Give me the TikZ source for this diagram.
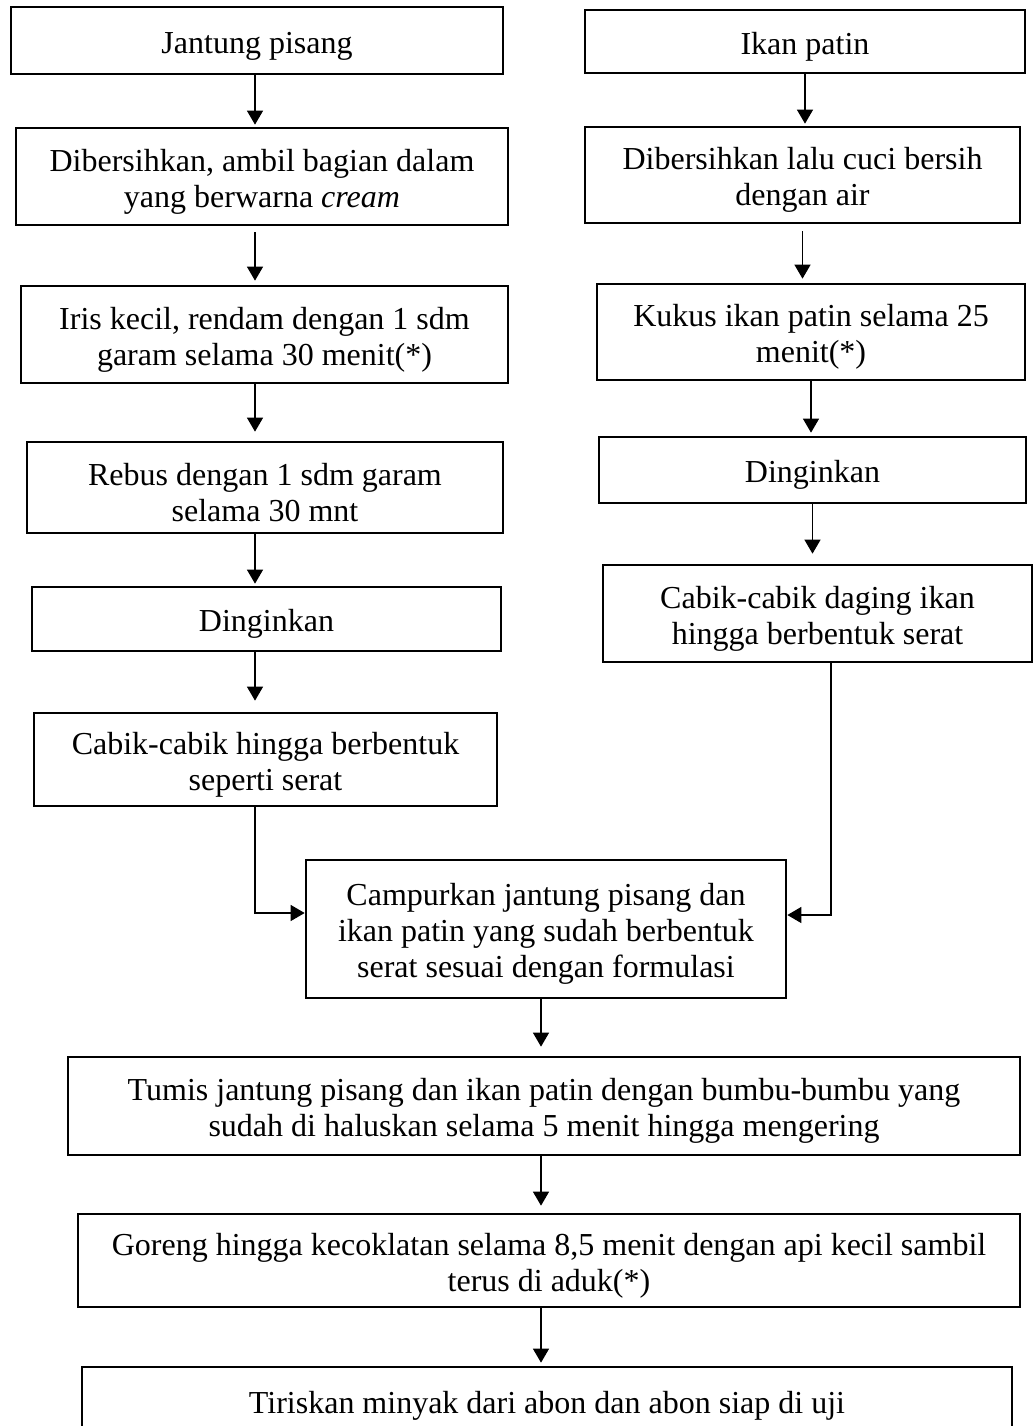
\documentclass[tikz,border=0pt]{standalone}
\usepackage{fontspec}
\setmainfont{Liberation Serif}
\usetikzlibrary{arrows.meta}
\newcommand{\atas}{\rule{0pt}{32pt}}
\tikzset{
    %Default arrow tip
    >={Triangle[width=16pt,length=14pt]},
    %Style for the process boxes
    kotak/.style={
           rectangle,
           draw=black, line width=2.7pt,
           inner sep=0pt,
           align=center},
    % Style for the connectors
    panah/.style={
           ->,
           line width=1.3pt,
           shorten >=2pt,}
}

\begin{document}
\begin{tikzpicture}[x=1pt,y=-1pt,font=\fontsize{32}{36}\selectfont]
\useasboundingbox[fill=white] (0,0) rectangle (1033,1426);
% left column
\node [kotak,minimum width=492pt,minimum height=67pt] (jantung) at (257,40.5) {\atas Jantung pisang};
\node [kotak,minimum width=492pt,minimum height=97pt] (bersihA) at (262,176.5) {\atas Dibersihkan, ambil bagian dalam\\yang berwarna \textit{cream}};
\node [kotak,minimum width=487pt,minimum height=97pt] (iris) at (264.5,334.5) {\atas Iris kecil, rendam dengan 1 sdm\\garam selama 30 menit(*)};
\node [kotak,minimum width=476pt,minimum height=91pt] (rebus) at (265,487.5) {\atas Rebus dengan 1 sdm garam\\selama 30 mnt};
\node [kotak,minimum width=469pt,minimum height=64pt] (dinginA) at (266.5,619) {\atas Dinginkan};
\node [kotak,minimum width=463pt,minimum height=93pt] (cabikA) at (265.5,759.5) {\atas Cabik-cabik hingga berbentuk\\seperti serat};
% right column
\node [kotak,minimum width=440pt,minimum height=63pt] (ikan) at (805,41.5) {\atas Ikan patin};
\node [kotak,minimum width=435pt,minimum height=96pt] (bersihB) at (802.5,175) {\atas Dibersihkan lalu cuci bersih\\dengan air};
\node [kotak,minimum width=428pt,minimum height=96pt] (kukus) at (811,332) {\atas Kukus ikan patin selama 25\\menit(*)};
\node [kotak,minimum width=427pt,minimum height=66pt] (dinginB) at (812.5,470) {\atas Dinginkan};
\node [kotak,minimum width=429pt,minimum height=97pt] (cabikB) at (817.5,613.5) {\atas Cabik-cabik daging ikan\\hingga berbentuk serat};
% merged steps
\node [kotak,minimum width=480pt,minimum height=138pt] (campur) at (546,929) {\atas Campurkan jantung pisang dan\\ikan patin yang sudah berbentuk\\serat sesuai dengan formulasi};
\node [kotak,minimum width=952pt,minimum height=98pt] (tumis) at (544,1106) {\atas Tumis jantung pisang dan ikan patin dengan bumbu-bumbu yang\\sudah di haluskan selama 5 menit hingga mengering};
\node [kotak,minimum width=942pt,minimum height=93pt] (goreng) at (549,1260.5) {\atas Goreng hingga kecoklatan selama 8,5 menit dengan api kecil sambil\\terus di aduk(*)};
\node [kotak,minimum width=930pt,minimum height=68pt] (tiris) at (547,1401) {\atas Tiriskan minyak dari abon dan abon siap di uji};

\coordinate (kiri) at (255,0);
\coordinate (kanan) at (831,0);
\coordinate (tengah) at (541,0);

\draw [panah] (jantung.south -| kiri) -- (bersihA.north -| kiri);
\draw [panah,shorten <=6pt,shorten >=4pt] (bersihA.south -| kiri) -- (iris.north -| kiri);
\draw [panah,shorten >=9pt] (iris.south -| kiri) -- (rebus.north -| kiri);
\draw [panah] (rebus.south -| kiri) -- (dinginA.north -| kiri);
\draw [panah,shorten >=11pt] (dinginA.south -| kiri) -- (cabikA.north -| kiri);

\draw [panah] (ikan.south) -- (ikan.south |- bersihB.north);
\draw [panah,shorten <=7pt,shorten >=4pt] (bersihB.south) -- (bersihB.south |- kukus.north);
\draw [panah,shorten >=3pt] (kukus.south) -- (kukus.south |- dinginB.north);
\draw [panah,shorten >=10pt] (dinginB.south) -- (dinginB.south |- cabikB.north);

\draw [panah,shorten >=0pt] (cabikA.south -| kiri) |- ([yshift=16pt]campur.west);
\draw [panah,shorten >=0pt] (cabikB.south -| kanan) |- ([yshift=14pt]campur.east);

\draw [panah,shorten >=9pt] (campur.south -| tengah) -- (tumis.north -| tengah);
\draw [panah,shorten >=7pt] (tumis.south -| tengah) -- (goreng.north -| tengah);
\draw [panah,shorten >=3pt] (goreng.south -| tengah) -- (tiris.north -| tengah);
\end{tikzpicture}
\end{document}
